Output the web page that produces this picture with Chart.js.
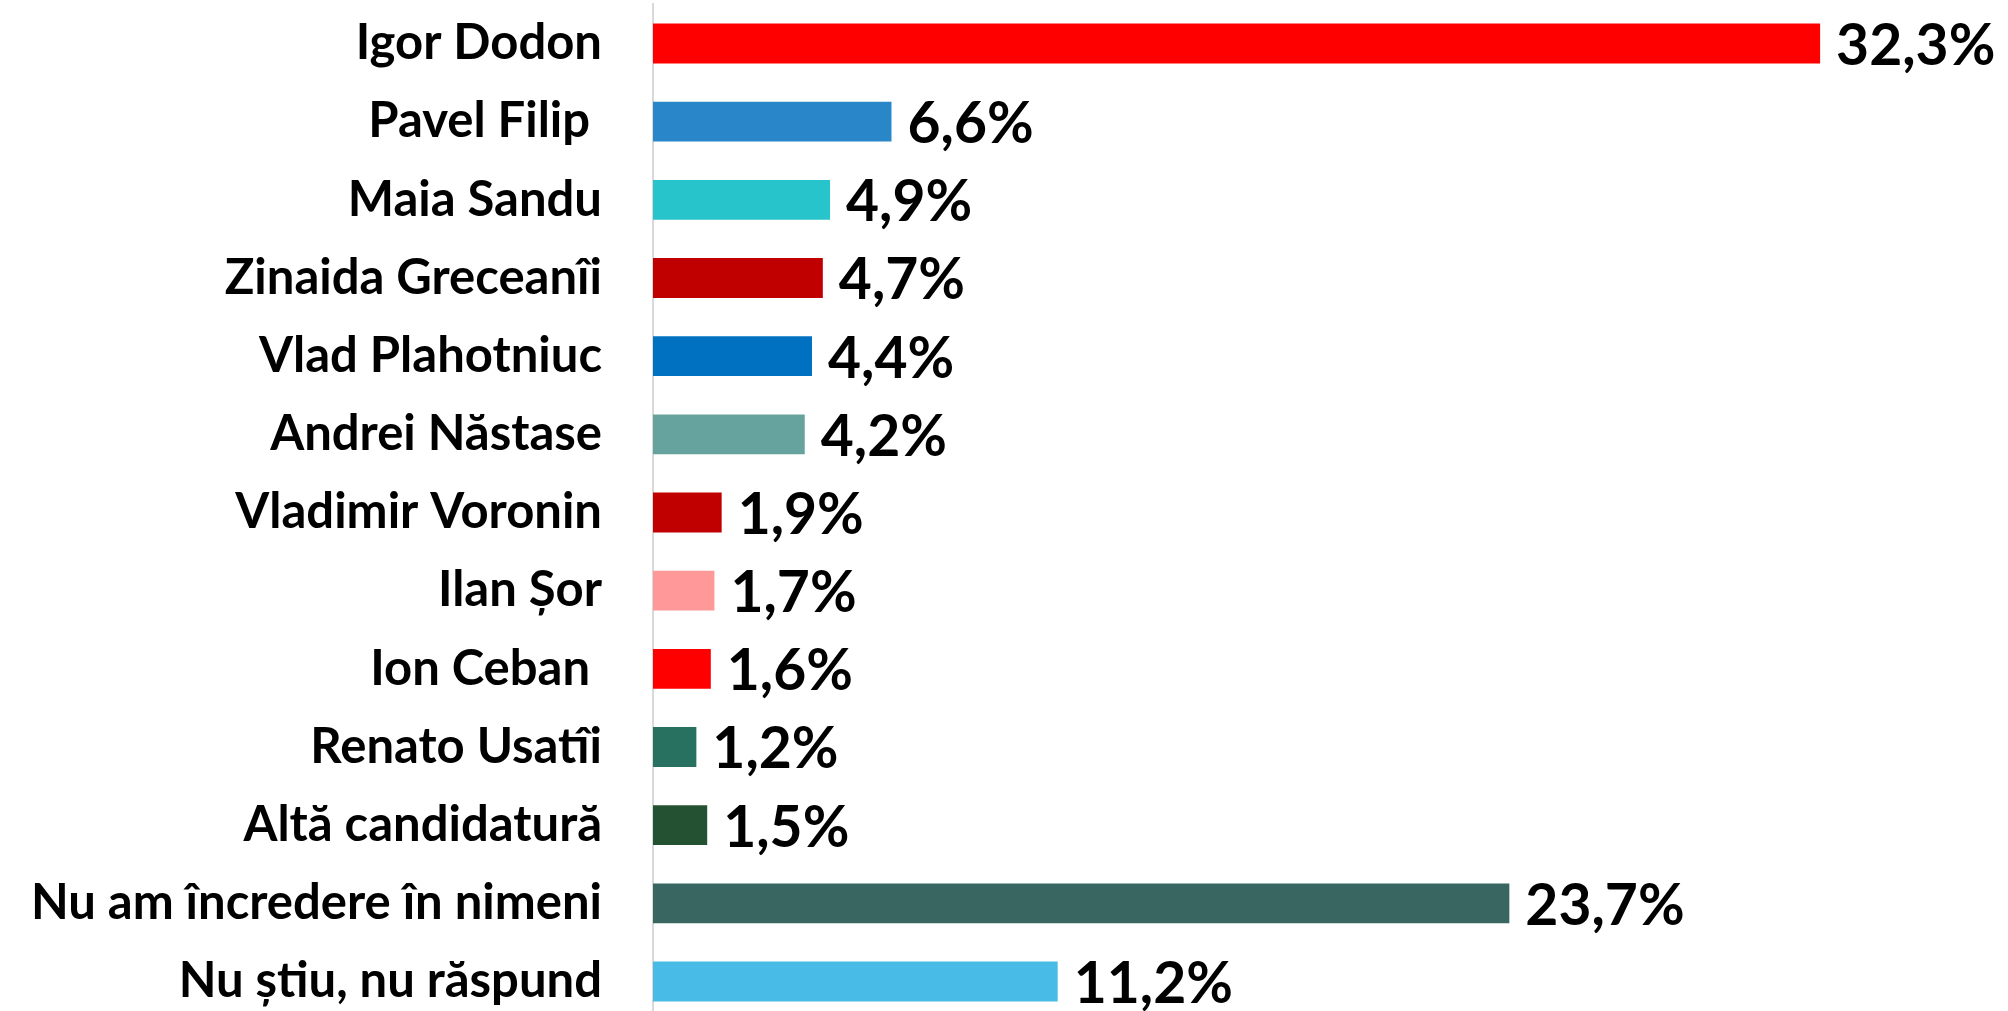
<!DOCTYPE html>
<html>
<head>
<meta charset="utf-8">
<script src="https://cdn.jsdelivr.net/npm/chart.js@4/dist/chart.umd.min.js"></script>
<style>
  html, body { margin: 0; padding: 0; background: #fff; overflow: hidden; }
  /* the scale keeps half a label height free above and below; pull it out of view */
  canvas { display: block; margin-top: -25px; }
</style>
</head>
<body>
<canvas id="pollChart" width="2008" height="1075"></canvas>
<script>
var categories = ['Igor Dodon', 'Pavel Filip ', 'Maia Sandu', 'Zinaida Greceanîi', 'Vlad Plahotniuc',
    'Andrei Năstase', 'Vladimir Voronin', 'Ilan Șor', 'Ion Ceban ', 'Renato Usatîi',
    'Altă candidatură', 'Nu am încredere în nimeni', 'Nu știu, nu răspund'];
var values = [32.3, 6.6, 4.9, 4.7, 4.4, 4.2, 1.9, 1.7, 1.6, 1.2, 1.5, 23.7, 11.2];
var barColors = ['#ff0000', '#2986c8', '#27c4cb', '#c00000', '#0070c0', '#66a39f', '#c00000',
    '#ff9999', '#ff0000', '#287060', '#245132', '#3a6661', '#48bbe6'];

var valueLabels = {
    id: 'valueLabels',
    afterDatasetsDraw: function (chart) {
        var ctx = chart.ctx;
        var meta = chart.getDatasetMeta(0);
        ctx.save();
        ctx.font = 'bold 57px Lato, sans-serif';
        ctx.fillStyle = '#000';
        ctx.textAlign = 'left';
        ctx.textBaseline = 'middle';
        meta.data.forEach(function (bar, i) {
            var txt = values[i].toFixed(1).replace('.', ',') + '%';
            ctx.fillText(txt, bar.x + 16, bar.y + 3);
        });
        ctx.restore();
    }
};

new Chart('pollChart', {
    type: 'bar',
    data: {
        labels: categories,
        datasets: [{
            data: values,
            backgroundColor: barColors,
            barPercentage: 0.51,
            categoryPercentage: 1
        }]
    },
    options: {
        indexAxis: 'y',
        responsive: false,
        animation: false,
        layout: { padding: { top: 4, right: 0, bottom: 0, left: 0 } },
        plugins: {
            legend: { display: false },
            tooltip: { enabled: false }
        },
        scales: {
            x: {
                display: false,
                min: 0,
                max: 37.5
            },
            y: {
                afterFit: function (scale) { scale.width = 653; },
                // invisible tick marks push the labels away from the axis line
                grid: {
                    display: true,
                    drawOnChartArea: false,
                    drawTicks: true,
                    tickLength: 51,
                    color: 'rgba(0,0,0,0)'
                },
                border: { display: true, color: '#d9d9d9', width: 2 },
                ticks: {
                    padding: 0,
                    color: '#000',
                    font: { family: 'Lato, sans-serif', weight: 'bold', size: 49 }
                }
            }
        }
    },
    plugins: [valueLabels]
});
</script>
</body>
</html>
